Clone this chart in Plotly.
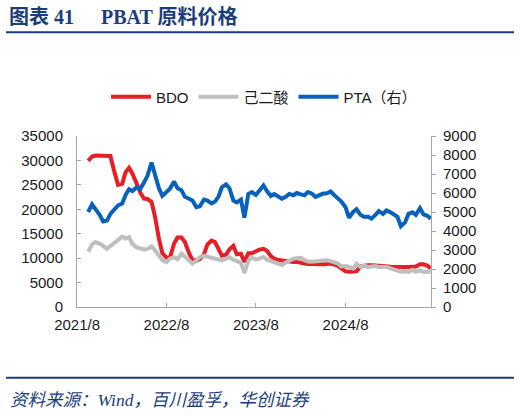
import pandas as pd
import plotly.graph_objects as go

# semi-monthly sample dates (1st / 15th), 2021-09-15 .. 2025-07-15
dates = pd.date_range("2021-09-15", "2025-07-15", freq="SMS")

# BDO, yuan/ton (left axis)
bdo = [29900, 30800, 31000, 31000, 31000, 31000, 30900, 27500, 25000, 25200,
       27600, 28500, 27300, 25300, 23500, 22200, 22100, 21500, 18500, 14000,
       11000, 10100, 10100, 13000, 14200, 14200, 13300, 11000, 9600, 9500,
       9800, 10800, 12800, 13600, 13300, 11900, 10500, 10700, 11800, 12500,
       10800, 10900, 9200, 11000, 11000, 11400, 11750, 11900, 11500, 10400,
       9900, 9600, 9500, 9300, 9250, 9230, 9230, 8950, 8900, 8800,
       8750, 8750, 8750, 8750, 8800, 8900, 8700, 8400, 7900, 7300,
       7200, 7200, 7300, 8300, 8500, 8550, 8550, 8550, 8500, 8400,
       8350, 8250, 8200, 8200, 8200, 8200, 8200, 8200, 8300, 8750,
       8750, 8500, 7900]

# adipic acid (己二酸), left axis
adipic = [11300, 12800, 13300, 13000, 12500, 11900, 12500, 13300, 13700, 14400,
          14000, 14300, 12900, 12200, 11950, 11800, 11900, 12400, 11600, 10600,
          9600, 9200, 9900, 10200, 9800, 10900, 10200, 9400, 8900, 9500,
          10200, 10500, 10300, 10100, 9900, 9700, 9550, 9900, 10200, 9700,
          9300, 9000, 7000, 9500, 10100, 9700, 9900, 10250, 9700, 9400,
          9000, 8750, 8600, 9100, 9500, 9900, 10000, 10050, 9600, 9300,
          9250, 9250, 9400, 9500, 9550, 9400, 9150, 8900, 8300, 8400,
          8200, 7870, 8850, 8200, 8500, 8200, 8300, 8400, 8200, 8300,
          8250, 7900, 7600, 7300, 7200, 7300, 7200, 7600, 7200, 7500,
          7150, 7200, 7200]

# PTA, right axis
pta = [5000, 5400, 5150, 4850, 4500, 4550, 4900, 5150, 5350, 5450,
       5900, 6200, 6100, 6300, 6200, 6550, 6900, 7600, 6900, 6250,
       5850, 6050, 6230, 6600, 6250, 6150, 5800, 5700, 5600, 5250,
       5300, 5650, 5600, 5450, 5550, 5800, 6300, 6450, 6250, 5600,
       5500, 5650, 4700, 5950, 6050, 5900, 6150, 6400, 6100, 5850,
       5950, 5800, 5700, 5800, 5950, 5880, 6000, 5930, 5880, 6050,
       5980, 5800, 5880, 5970, 5970, 6080, 5900, 5700, 5550, 5250,
       4700, 5000, 5150, 4850, 4750, 4750, 4650, 4850, 5050, 4900,
       5080, 4980, 4850, 4750, 4250, 4450, 4900, 4980, 4850, 5200,
       4880, 4800, 4650]

x_ticks = ["2021-08-01", "2022-08-01", "2023-08-01", "2024-08-01"]
x_labels = ["2021/8", "2022/8", "2023/8", "2024/8"]

NAVY = "#1B3D7C"
AXIS = "#A6A6A6"
FONT = "Liberation Sans, Arial, Noto Sans CJK SC"

fig = go.Figure()
fig.add_trace(go.Scatter(x=dates, y=bdo, name="BDO", mode="lines",
                         line=dict(color="#E61E25", width=4)))
fig.add_trace(go.Scatter(x=dates, y=adipic, name="己二酸", mode="lines",
                         line=dict(color="#BEBEBE", width=4)))
fig.add_trace(go.Scatter(x=dates, y=pta, name="PTA（右）", mode="lines",
                         line=dict(color="#0862BC", width=4), yaxis="y2"))

# plot area: x 77..431, y 136..307 (px)
def px(x):
    return (x - 77) / 354

def py(y):
    return (307 - y) / 171

fig.update_layout(
    width=520, height=415,
    margin=dict(l=77, r=89, t=136, b=108, autoexpand=False),
    paper_bgcolor="white", plot_bgcolor="white",
    font=dict(family=FONT, size=15, color="#1a1a1a"),
    showlegend=True,
    legend=dict(orientation="h", x=px(106), xanchor="left", y=py(97), yanchor="middle",
                font=dict(size=15), bgcolor="rgba(0,0,0,0)", itemwidth=40),
    xaxis=dict(type="date", range=["2021-07-31 12:00", "2025-07-16"],
               tickvals=x_ticks, ticktext=x_labels,
               ticks="inside", ticklen=4, tickcolor=AXIS,
               showline=True, linecolor=AXIS, linewidth=1,
               showgrid=False, zeroline=False, ticklabelstandoff=4),
    yaxis=dict(range=[0, 35000], dtick=5000, tickformat="d",
               ticks="inside", ticklen=4, tickcolor=AXIS,
               showline=True, linecolor=AXIS, linewidth=1,
               showgrid=False, zeroline=False, ticklabelstandoff=10),
    yaxis2=dict(range=[0, 9000], dtick=1000, tickformat="d", overlaying="y", side="right",
                ticks="outside", ticklen=4, tickcolor=AXIS,
                showline=True, linecolor=AXIS, linewidth=1,
                showgrid=False, zeroline=False, ticklabelstandoff=4),
)

# header / footer
fig.add_annotation(text="<b>图表 41</b>", x=px(7), y=py(17), xref="paper", yref="paper",
                   xanchor="left", yanchor="middle", showarrow=False,
                   font=dict(family="Liberation Serif, Noto Sans CJK SC", size=20, color=NAVY))
fig.add_annotation(text="<b>PBAT 原料价格</b>", x=px(99), y=py(17), xref="paper", yref="paper",
                   xanchor="left", yanchor="middle", showarrow=False,
                   font=dict(family="Liberation Serif, Noto Sans CJK SC", size=20, color=NAVY))
fig.add_shape(type="line", xref="paper", yref="paper", x0=px(6), x1=px(514),
              y0=py(32.3), y1=py(32.3), line=dict(color=NAVY, width=2))
fig.add_shape(type="line", xref="paper", yref="paper", x0=px(6), x1=px(514),
              y0=py(377.7), y1=py(377.7), line=dict(color=NAVY, width=2))
fig.add_annotation(text="<i>资料来源：Wind，百川盈孚，华创证券</i>", x=px(8), y=py(400),
                   xref="paper", yref="paper", xanchor="left", yanchor="middle",
                   showarrow=False,
                   font=dict(family="Liberation Serif, Noto Sans CJK SC", size=17.5, color=NAVY))

# drop the default body margin so the figure sits at the page corner
fig.write_html("out.html", config={"displayModeBar": False},
               post_script="document.body.style.margin='0';")
